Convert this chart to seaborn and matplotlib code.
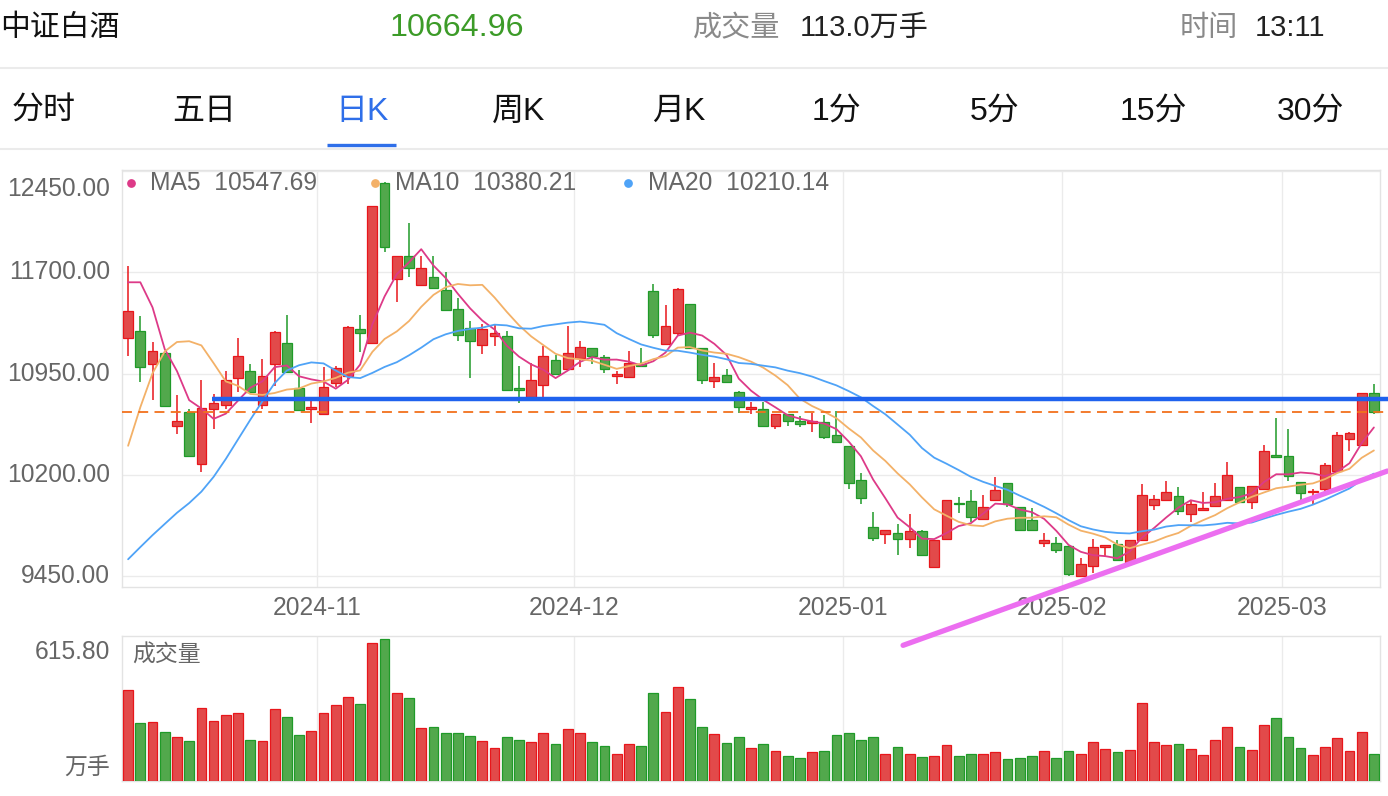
import numpy as np
import pandas as pd
import matplotlib
matplotlib.use("Agg")
import matplotlib.pyplot as plt
import matplotlib.transforms as mtransforms
from matplotlib.lines import Line2D
import seaborn as sns

# ---------------- data ----------------
opens = [11217, 11262, 11024, 11101, 10566, 10665, 10284, 10685, 10715, 10915,
         10970, 10715, 11024, 11180, 10841, 10685, 10648, 10883, 10933, 11279,
         11175, 12363, 11650, 11819, 11606, 11663, 11569, 11428, 11284, 11163,
         11230, 11230, 10846, 10774, 10863, 11049, 10987, 11064, 11143, 11076,
         10933, 10925, 11024, 11564, 11168, 11254, 11465, 11136, 10896, 10940,
         10816, 10685, 10685, 10561, 10653, 10599, 10581, 10591, 10495, 10413,
         10160, 9814, 9764, 9769, 9725, 9782, 9522, 9725, 9992, 10010,
         9876, 10017, 10141, 9962, 9863, 9700, 9700, 9675, 9453, 9527,
         9666, 9688, 9559, 9715, 9980, 10012, 10047, 9910, 9943, 9972,
         10012, 10111, 9997, 10096, 10351, 10344, 10148, 10071, 10096, 10227,
         10467, 10420, 10809]
highs = [11749, 11373, 11183, 11106, 10792, 10685, 10903, 10797, 10967, 11210,
         11019, 11061, 11267, 11386, 10977, 10752, 11000, 11007, 11299, 11386,
         12188, 12368, 11819, 12064, 11824, 11819, 11700, 11507, 11341, 11316,
         11316, 11267, 11007, 11032, 11155, 11086, 11304, 11193, 11143, 11086,
         10970, 11118, 11138, 11613, 11457, 11581, 11465, 11136, 11032, 10982,
         10821, 10742, 10742, 10648, 10653, 10636, 10660, 10641, 10673, 10413,
         10215, 9923, 9789, 9839, 9913, 9794, 9720, 10017, 10037, 10091,
         10049, 10185, 10141, 9962, 9955, 9769, 9740, 9675, 9584, 9725,
         9678, 9720, 9720, 10136, 10054, 10158, 10111, 10012, 10071, 10141,
         10294, 10111, 10121, 10420, 10623, 10537, 10148, 10099, 10289, 10519,
         10519, 10809, 10876]
lows = [11081, 10891, 10754, 10705, 10505, 10339, 10222, 10537, 10685, 10814,
        10809, 10685, 10858, 10957, 10680, 10586, 10641, 10853, 10871, 11113,
        11175, 11853, 11482, 11663, 11601, 11584, 11415, 11193, 10920, 11094,
        11155, 10826, 10735, 10774, 10759, 10940, 10987, 11000, 11024, 10957,
        10876, 10920, 11007, 11217, 11168, 11237, 11143, 10871, 10841, 10878,
        10655, 10648, 10561, 10537, 10566, 10556, 10517, 10467, 10443, 10096,
        9987, 9708, 9690, 9609, 9663, 9609, 9522, 9725, 9918, 9849,
        9876, 10017, 9962, 9789, 9789, 9670, 9626, 9453, 9453, 9477,
        9591, 9567, 9554, 9715, 9938, 10012, 9901, 9849, 9930, 9972,
        10012, 9997, 9948, 10096, 10334, 10153, 9997, 9987, 10061, 10227,
        10376, 10420, 10653]
closes = [11415, 11002, 11118, 10710, 10599, 10339, 10693, 10735, 10903, 11081,
          10814, 10933, 11259, 10965, 10680, 10700, 10853, 10995, 11292, 11247,
          12188, 11886, 11819, 11730, 11732, 11584, 11423, 11235, 11193, 11279,
          11254, 10826, 10829, 10903, 11081, 10945, 11106, 11150, 11081, 10982,
          10950, 11032, 11007, 11237, 11304, 11576, 11143, 10900, 10928, 10891,
          10702, 10700, 10561, 10648, 10599, 10574, 10599, 10480, 10443, 10141,
          10029, 9737, 9789, 9727, 9782, 9609, 9720, 10012, 9985, 9888,
          9962, 10091, 9987, 9794, 9789, 9715, 9646, 9467, 9539, 9666,
          9678, 9567, 9715, 10054, 10022, 10071, 9930, 9987, 9955, 10047,
          10198, 9997, 10121, 10376, 10334, 10195, 10066, 10084, 10277, 10495,
          10512, 10809, 10664.96]
volumes = [386, 244, 248, 206, 187, 169, 308, 255, 280, 287,
           173, 169, 304, 270, 194, 211, 287, 321, 356, 328,
           585, 603, 372, 353, 223, 228, 204, 203, 190, 170,
           139, 184, 173, 166, 204, 155, 221, 202, 163, 149,
           114, 158, 148, 375, 291, 397, 346, 230, 197, 160,
           186, 138, 156, 128, 106, 96, 122, 125, 194, 203,
           173, 186, 114, 142, 114, 102, 105, 153, 104, 112,
           115, 123, 92, 98, 106, 125, 98, 126, 115, 165,
           135, 122, 129, 332, 166, 152, 158, 133, 109, 173,
           228, 143, 132, 237, 265, 186, 138, 109, 143, 182,
           128, 206, 113.0]
# closes of the sessions before the first visible candle (only feed the MA lines)
pre_closes = [9200, 9350, 9050, 8950, 8900, 9000, 8550, 8250, 8180, 7930,
              8150, 8600, 9100, 9900, 10280, 11002, 12048, 12255, 11410]

month_labels = ["2024-11", "2024-12", "2025-01", "2025-02", "2025-03"]
month_first_idx = [16, 37, 59, 77, 95]
price_ticks = [9450, 10200, 10950, 11700, 12450]
volume_top = 615.80
ma_names = ["MA5", "MA10", "MA20"]
ma_windows = [5, 10, 20]
ma_legend_values = [10547.69, 10380.21, 10210.14]
support_level = 10765
support_start = 7
trend_x = [63.45, 103.1]
trend_y = [8939, 10229]

title = "中证白酒"
price_text = "10664.96"
vol_text = "113.0万手"
time_text = "13:11"
tabs = ["分时", "五日", "日K", "周K", "月K", "1分", "5分", "15分", "30分"]
active_tab = 2

# ---------------- style ----------------
sns.set_theme(style="white")
plt.rcParams["font.family"] = ["Liberation Sans", "Noto Sans CJK SC", "DejaVu Sans"]

W, H = 1388, 796
fig = plt.figure(figsize=(W / 100, H / 100), dpi=100)
fig.patch.set_facecolor("white")


def FX(px):
    return px / W


def FY(py):
    return 1 - py / H


GRAY = "#666666"
GRID = "#ebebeb"
RED_F, RED_E = "#e24a4a", "#e8161b"
GRN_F, GRN_E = "#52a84c", "#1f9a28"
MA_COLORS = ["#dd3a88", "#f3b168", "#4fa3f7"]
LAB = 17.7   # latin axis labels
CJK_LAB = 16.5

# ---------------- header ----------------
hy = FY(28)
fig.text(FX(0), hy, title, fontsize=21.5, color="#111111", va="center", ha="left")
fig.text(FX(390), hy, price_text, fontsize=23.2, color="#3c9b28", va="center", ha="left")
fig.text(FX(693), hy, "成交量", fontsize=21, color="#8a8a8a", va="center", ha="left")
fig.text(FX(800), hy, vol_text, fontsize=21, color="#222222", va="center", ha="left")
fig.text(FX(1180), hy, "时间", fontsize=21, color="#8a8a8a", va="center", ha="left")
fig.text(FX(1255), hy, time_text, fontsize=21, color="#222222", va="center", ha="left")
fig.add_artist(Line2D([0, 1], [FY(68), FY(68)], color=GRID, lw=1.5))
fig.add_artist(Line2D([0, 1], [FY(149), FY(149)], color=GRID, lw=1.5))

tab_x = [12, 172, 335, 492, 652, 812, 970, 1120, 1277]
for i, (t, x) in enumerate(zip(tabs, tab_x)):
    fig.text(FX(x), FY(112), t, fontsize=23,
             color="#2f6fe9" if i == active_tab else "#111111", va="center", ha="left")
fig.add_artist(Line2D([FX(327), FX(396)], [FY(145), FY(145)], color="#2f6fe9",
                      lw=2.4, solid_capstyle="butt"))

# ---------------- data prep ----------------
n = len(closes)
idx = np.arange(n)
o = np.array(opens, float)
c = np.array(closes, float)
hi = np.array(highs, float)
lo = np.array(lows, float)
up = c >= o
fills = np.where(up, RED_F, GRN_F)
edges = np.where(up, RED_E, GRN_E)
all_c = pd.Series(pre_closes + list(closes), dtype=float)
mas = [all_c.rolling(w).mean().iloc[-n:].to_numpy() for w in ma_windows]
month_pos = [i - 0.5 for i in month_first_idx]

# ---------------- price panel ----------------
ax = fig.add_axes([FX(122), FY(586.7), (1380 - 122) / W, (586.7 - 170) / H])
ax.set_zorder(3)
ax.vlines(idx, lo, hi, colors=edges, lw=1.1, zorder=3)
ax.bar(idx, np.abs(c - o), bottom=np.minimum(o, c), width=0.8, color=fills,
       edgecolor=edges, linewidth=0.9, zorder=4)
for vals, col in zip(mas, MA_COLORS):
    sns.lineplot(x=idx, y=vals, ax=ax, color=col, linewidth=1.3, estimator=None,
                 zorder=5, legend=False)

ax.plot([support_start - 0.1, n + 0.15], [support_level, support_level], color="#1f62ee",
        lw=3.2, solid_capstyle="butt", zorder=7, clip_on=False)
ax.plot([-0.5, n + 0.15], [closes[-1], closes[-1]], color="#f2711c", lw=1.3,
        ls=(0, (5.5, 3.5)), zorder=6, clip_on=False)
ax.plot(trend_x, trend_y, color="#ec6ef0", lw=3.8, solid_capstyle="round",
        zorder=8, clip_on=False)

ax.set_xlim(-0.5, n - 0.5)
ax.set_ylim(9373, 12457)
ax.set_xticks(month_pos)
ax.set_xticklabels(month_labels, fontsize=LAB, color=GRAY)
ax.set_yticks(price_ticks)
ax.set_yticklabels([])
ax.tick_params(axis="both", length=0)
ax.tick_params(axis="x", pad=7)
ax.grid(True, color=GRID, lw=1)
ax.set_xlabel("")
ax.set_ylabel("")
for s in ax.spines.values():
    s.set_color("#e3e3e3")
    s.set_linewidth(1)

ylab_trans = mtransforms.blended_transform_factory(fig.transFigure, ax.transData)
for v in price_ticks:
    if v == price_ticks[-1]:
        t = mtransforms.offset_copy(ylab_trans, fig=fig, y=-6, units="dots")
        ax.text(FX(110), v, f"{v:.2f}", transform=t, ha="right", va="top",
                fontsize=LAB, color=GRAY)
    else:
        ax.text(FX(110), v, f"{v:.2f}", transform=ylab_trans, ha="right", va="center",
                fontsize=LAB, color=GRAY)

# legend (inside the price panel)
leg_dot_x = [131, 375, 628]
leg_txt_x = [150, 395, 648]
for name, val, col, dx, tx in zip(ma_names, ma_legend_values, MA_COLORS, leg_dot_x, leg_txt_x):
    fig.add_artist(Line2D([FX(dx)], [FY(183)], marker="o", markersize=6.3, color=col,
                          markeredgewidth=0, linestyle="none", zorder=20))
    fig.text(FX(tx), FY(183), f"{name}  {val:.2f}", fontsize=LAB, color=GRAY,
             va="center", ha="left", zorder=20)

# ---------------- volume panel ----------------
axv = fig.add_axes([FX(122), FY(780.7), (1380 - 122) / W, (780.7 - 636) / H])
axv.set_zorder(1)
axv.bar(idx, volumes, width=0.8, color=fills, edgecolor=edges, linewidth=0.9, zorder=3)
axv.set_xlim(-0.5, n - 0.5)
axv.set_ylim(0, volume_top)
axv.set_xticks(month_pos)
axv.set_xticklabels([])
axv.set_yticks([])
axv.tick_params(length=0)
axv.grid(True, axis="x", color=GRID, lw=1)
for s in axv.spines.values():
    s.set_color("#e3e3e3")
    s.set_linewidth(1)

fig.text(FX(110), FY(652), f"{volume_top:.2f}", fontsize=LAB, color=GRAY, ha="right", va="center")
fig.text(FX(110), FY(767), "万手", fontsize=CJK_LAB, color=GRAY, ha="right", va="center")
fig.text(FX(132), FY(655), "成交量", fontsize=CJK_LAB, color=GRAY, ha="left", va="center", zorder=20)

fig.savefig("out.png", dpi=100, facecolor="white")
